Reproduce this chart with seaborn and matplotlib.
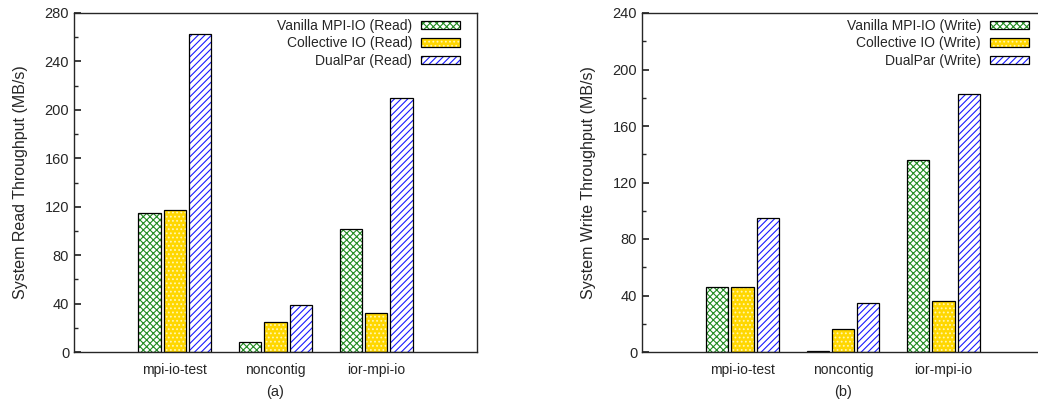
import pandas as pd
import numpy as np
import seaborn as sns
import matplotlib.pyplot as plt
from matplotlib.colors import to_rgba
from matplotlib.ticker import MultipleLocator

# data
benchmarks = ["mpi-io-test", "noncontig", "ior-mpi-io"]
read_vanilla = [115, 8, 102]
read_collective = [117, 25, 32]
read_dualpar = [263, 39, 210]
write_vanilla = [46, 1, 136]
write_collective = [46, 16, 36]
write_dualpar = [95, 35, 183]

read_names = ["Vanilla MPI-IO (Read)", "Collective IO (Read)", "DualPar (Read)"]
write_names = ["Vanilla MPI-IO (Write)", "Collective IO (Write)", "DualPar (Write)"]

fills = ["white", "#ffd700", "white"]
hatch_colors = ["#228b22", "#fff6b0", "#1a1aff"]
hatches = ["xxxxx", "....", "/////"]

sns.set_theme(style="ticks")
plt.rcParams['font.family'] = ['Liberation Sans', 'DejaVu Sans']
plt.rcParams['hatch.linewidth'] = 0.8


def long_df(names, series):
    rows = []
    for name, vals in zip(names, series):
        for b, v in zip(benchmarks, vals):
            rows.append({"bench": b, "series": name, "value": v})
    return pd.DataFrame(rows)


def draw(ax, names, series, ymax, ylabel, xlabel, leg_x):
    df = long_df(names, series)
    sns.barplot(data=df, x="bench", y="value", hue="series", order=benchmarks,
                hue_order=names, palette=dict(zip(names, fills)), width=0.75,
                gap=0.12, saturation=1, edgecolor="black", linewidth=0.9, ax=ax)
    for cont, h, hc in zip(ax.containers, hatches, hatch_colors):
        for p in cont:
            p.set_hatch(h)
            p._hatch_color = to_rgba(hc)
    ax.set_xlim(-1, 3)
    ax.set_ylim(0, ymax)
    ax.yaxis.set_major_locator(MultipleLocator(40))
    ax.yaxis.set_minor_locator(MultipleLocator(20))
    ax.tick_params(axis="y", which="both", direction="in", labelsize=10.5)
    ax.tick_params(axis="y", which="major", length=5)
    ax.tick_params(axis="y", which="minor", length=3)
    ax.tick_params(axis="x", length=0, labelsize=10, pad=8)
    ax.set_ylabel(ylabel, fontsize=11.5, labelpad=12)
    ax.set_xlabel(xlabel, fontsize=10.5, labelpad=6)
    for s in ax.spines.values():
        s.set_linewidth(1.0)
    leg = ax.legend(loc="upper right", frameon=False, markerfirst=False,
                    fontsize=10, handlelength=2.8, handleheight=0.55,
                    labelspacing=0.25, borderaxespad=0, borderpad=0,
                    handletextpad=0.65,
                    bbox_to_anchor=(leg_x / 1038, 1 - 19 / 405),
                    bbox_transform=fig.transFigure)
    for hnd, h, hc in zip(leg.legend_handles, hatches, hatch_colors):
        hnd.set_edgecolor("black")
        hnd.set_linewidth(0.9)
        hnd.set_hatch(h)
        hnd._hatch_color = to_rgba(hc)
    for t in leg.get_texts():
        t.set_ha("right")


fig = plt.figure(figsize=(10.38, 4.05), dpi=100)
ax1 = fig.add_axes([74 / 1038, 1 - 352 / 405, 403 / 1038, 339 / 405])
ax2 = fig.add_axes([642 / 1038, 1 - 352 / 405, 402 / 1038, 339 / 405])

draw(ax1, read_names, [read_vanilla, read_collective, read_dualpar], 280,
     "System Read Throughput (MB/s)", "(a)", 460)
draw(ax2, write_names, [write_vanilla, write_collective, write_dualpar], 240,
     "System Write Throughput (MB/s)", "(b)", 1029)

fig.savefig("out.png", dpi=100)
